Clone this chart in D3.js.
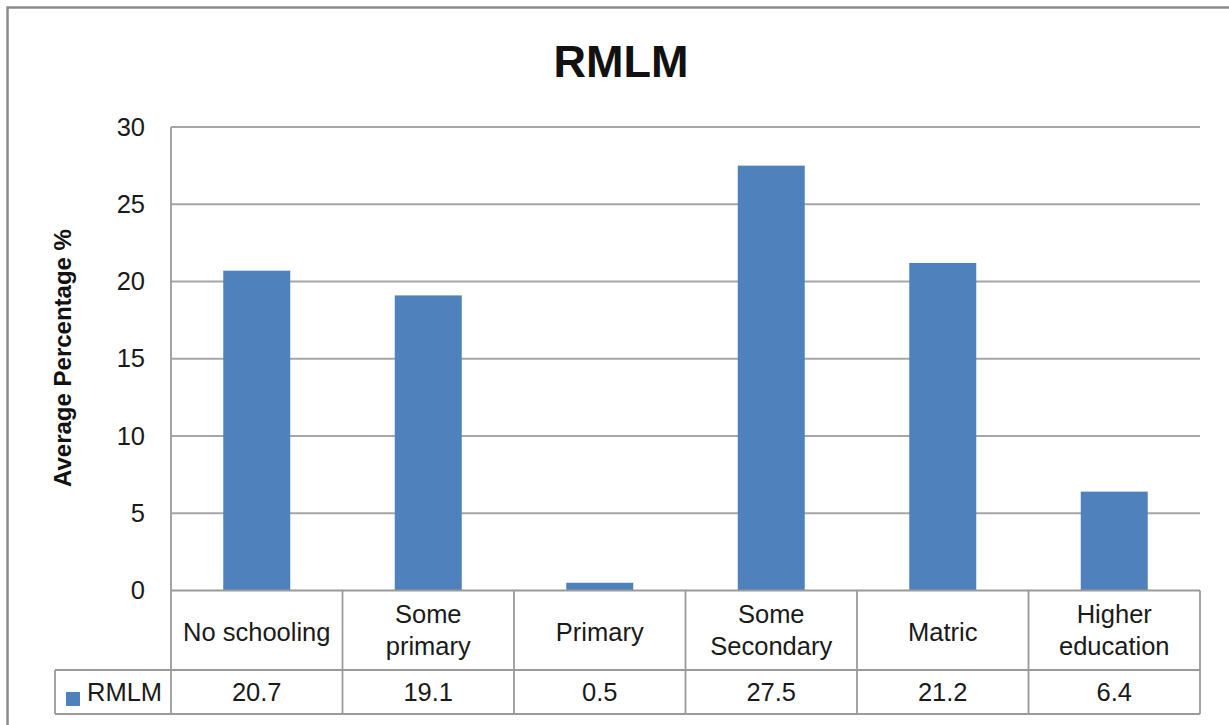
<!DOCTYPE html>
<html>
<head>
<meta charset="utf-8">
<script src="https://cdn.jsdelivr.net/npm/d3@7"></script>
<style>
html,body{margin:0;padding:0;background:#fff;}
svg{display:block;font-family:"Liberation Sans",Arial,sans-serif;}
</style>
</head>
<body>
<svg id="chart" width="1229" height="725"></svg>
<script>
const title = "RMLM";
const seriesName = "RMLM";
const categories = [["No schooling"],["Some","primary"],["Primary"],["Some","Secondary"],["Matric"],["Higher","education"]];
const values = [20.7, 19.1, 0.5, 27.5, 21.2, 6.4];
const valueLabels = ["20.7","19.1","0.5","27.5","21.2","6.4"];
const yTicks = [0, 5, 10, 15, 20, 25, 30];
const yLabel = "Average Percentage %";

(function(){
const svg = d3.select("#chart");
const plotLeft = 171, plotRight = 1200, plotTop = 127, base = 590.5;
const catRowBottom = 670, valRowBottom = 714, legendLeft = 55;
const gridColor = "#a6a6a6", tableColor = "#9a9a9a", barColor = "#4F81BD", textColor = "#1a1a1a";

// outer frame (top & left visible)
svg.append("path").attr("d","M7.5,725 L7.5,7.5 L1229,7.5").attr("fill","none").attr("stroke","#8c8c8c").attr("stroke-width",2.5);

const x = d3.scaleBand().domain(d3.range(categories.length)).range([plotLeft, plotRight]).paddingInner(0).paddingOuter(0);
const y = d3.scaleLinear().domain([0, 30]).range([base, plotTop]);

// gridlines
svg.append("g").selectAll("line").data(yTicks.filter(d=>d>0)).join("line")
  .attr("x1", plotLeft).attr("x2", plotRight)
  .attr("y1", d=>y(d)).attr("y2", d=>y(d))
  .attr("stroke", gridColor).attr("stroke-width", 1.8);

// y axis via d3 axis
const yAxis = svg.append("g").attr("transform", `translate(${plotLeft},0)`)
  .call(d3.axisLeft(y).tickValues(yTicks).tickSize(0).tickPadding(26));
yAxis.select(".domain").remove();
yAxis.selectAll("text").attr("font-size", 25.5).attr("fill", textColor).attr("font-family","Liberation Sans, Arial, sans-serif");

// bars
const barW = 67;
svg.append("g").selectAll("rect").data(values).join("rect")
  .attr("x", (d,i)=>x(i) + x.bandwidth()/2 - barW/2)
  .attr("y", d=>y(d))
  .attr("width", barW)
  .attr("height", d=>base - y(d))
  .attr("fill", barColor);

// table lines
const tg = svg.append("g").attr("stroke", tableColor).attr("stroke-width", 1.8).attr("fill","none");
tg.append("line").attr("x1", plotLeft).attr("x2", plotLeft).attr("y1", plotTop).attr("y2", valRowBottom);
tg.append("line").attr("x1", plotLeft).attr("x2", plotRight).attr("y1", base).attr("y2", base);
tg.append("line").attr("x1", legendLeft).attr("x2", plotRight).attr("y1", catRowBottom).attr("y2", catRowBottom);
tg.append("line").attr("x1", legendLeft).attr("x2", plotRight).attr("y1", valRowBottom).attr("y2", valRowBottom);
tg.append("line").attr("x1", legendLeft).attr("x2", legendLeft).attr("y1", catRowBottom).attr("y2", valRowBottom);
tg.selectAll("line.col").data(d3.range(1, categories.length+1)).join("line").attr("class","col")
  .attr("x1", i=> i===categories.length ? plotRight : x(i)).attr("x2", i=> i===categories.length ? plotRight : x(i))
  .attr("y1", base).attr("y2", valRowBottom);

// category labels
const fs = 25.5;
const cg = svg.append("g").attr("font-size", fs).attr("fill", textColor).attr("text-anchor","middle");
categories.forEach((lines, i) => {
  const cx = x(i) + x.bandwidth()/2;
  const t = cg.append("text").attr("x", cx);
  if (lines.length === 1) {
    t.attr("y", 641).text(lines[0]);
  } else {
    t.append("tspan").attr("x", cx).attr("y", 623).text(lines[0]);
    t.append("tspan").attr("x", cx).attr("y", 655).text(lines[1]);
  }
});

// value row
svg.append("g").attr("font-size", fs).attr("fill", textColor).attr("text-anchor","middle")
  .selectAll("text").data(valueLabels).join("text")
  .attr("x", (d,i)=>x(i) + x.bandwidth()/2).attr("y", 701).text(d=>d);

// legend cell
svg.append("rect").attr("x", 66).attr("y", 692).attr("width", 14).attr("height", 14).attr("fill", barColor);
svg.append("text").attr("x", 87).attr("y", 701).attr("font-size", fs).attr("fill", textColor).text(seriesName);

// title
svg.append("text").attr("x", 621).attr("y", 77).attr("text-anchor","middle")
  .attr("font-size", 45).attr("font-weight","bold").attr("fill","#111").text(title);

// y label
svg.append("text").attr("transform", "translate(71,358) rotate(-90)").attr("text-anchor","middle")
  .attr("font-size", 24).attr("font-weight","bold").attr("fill","#111").text(yLabel);
})();
</script>
</body>
</html>
